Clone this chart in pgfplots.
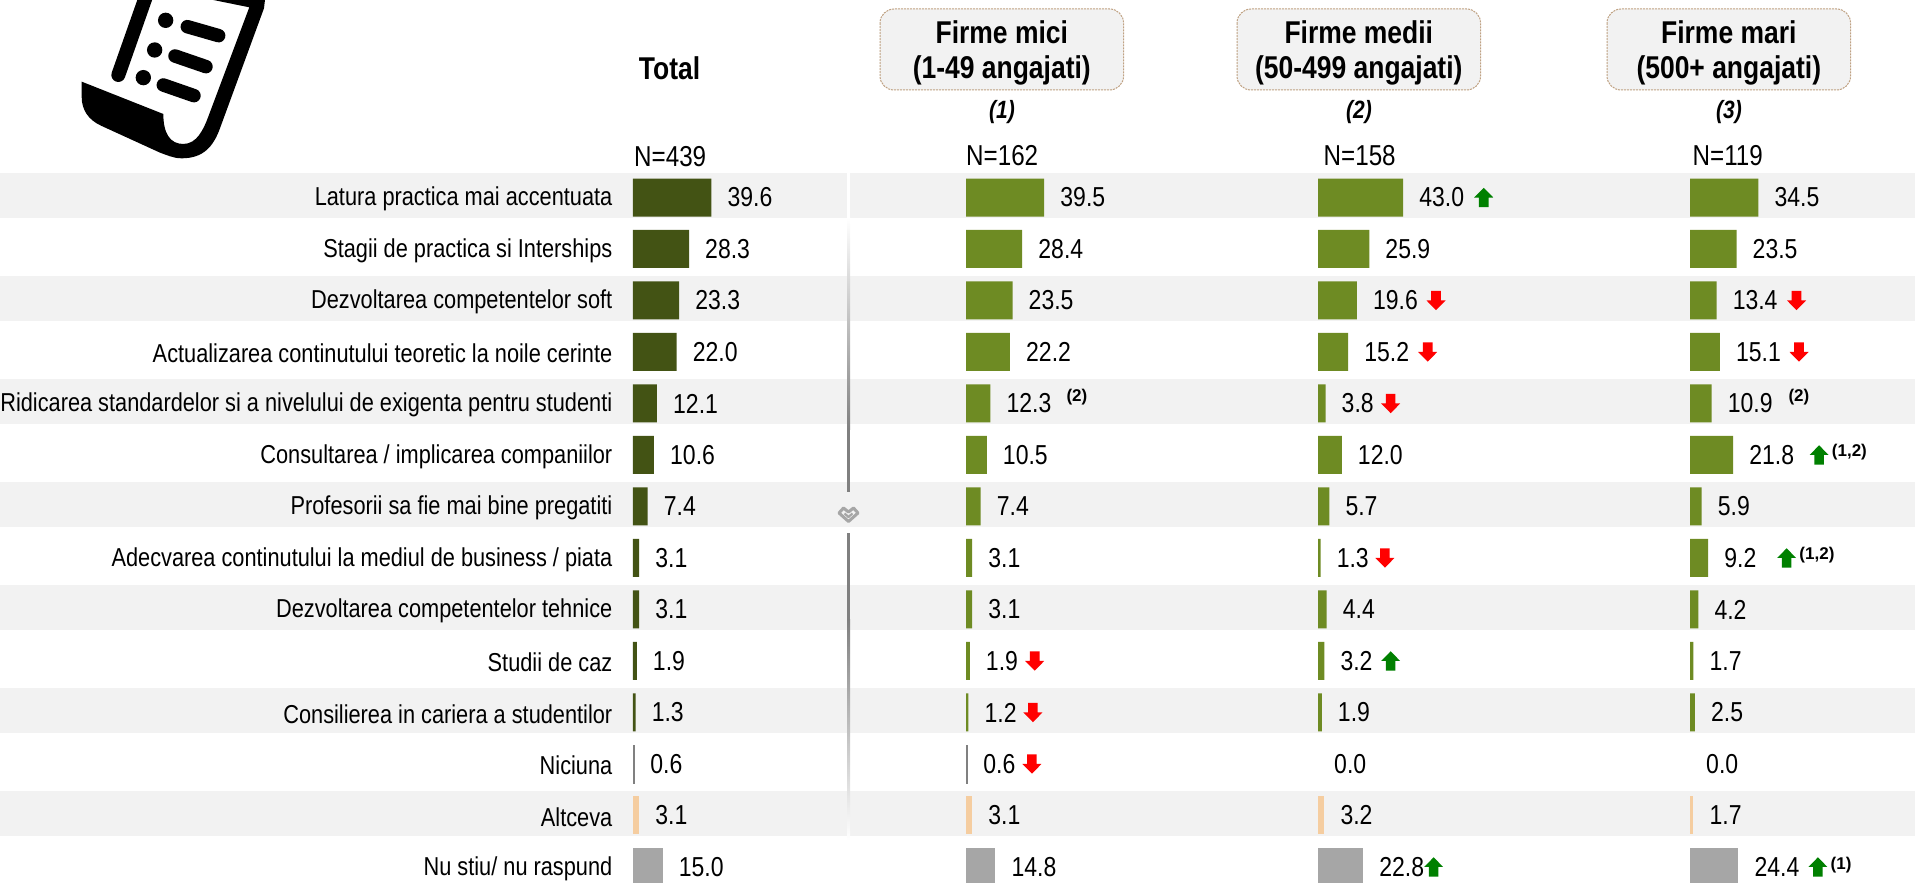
\documentclass[border=0pt]{standalone}
\usepackage{pgfplots}
\usepackage{fontspec}
\pgfplotsset{compat=1.18}
\setmainfont{Liberation Sans}[FakeStretch=0.84]
\newfontfamily\wide{Liberation Sans}
\newcommand{\vfont}{\fontsize{27.4pt}{30pt}\selectfont}
\newcommand{\nfont}{\fontsize{28.8pt}{32pt}\selectfont}
\newcommand{\hfont}{\fontsize{31.5pt}{38pt}\selectfont\bfseries}
\definecolor{dk}{HTML}{435314}
\definecolor{gr}{HTML}{6E8B23}
\definecolor{pe}{HTML}{F5CDA0}
\definecolor{gy}{HTML}{A6A6A6}
\definecolor{mg}{HTML}{808080}
\definecolor{st}{HTML}{F2F2F2}
\definecolor{upc}{HTML}{008000}
\definecolor{dnc}{HTML}{FF0000}
\definecolor{bx}{HTML}{BFA182}
\pgfdeclareplotmark{uparr}{%
  \pgfpathmoveto{\pgfqpoint{0pt}{9.7pt}}\pgfpathlineto{\pgfqpoint{9.5pt}{0pt}}
  \pgfpathlineto{\pgfqpoint{4.8pt}{0pt}}\pgfpathlineto{\pgfqpoint{4.8pt}{-9.7pt}}
  \pgfpathlineto{\pgfqpoint{-4.8pt}{-9.7pt}}\pgfpathlineto{\pgfqpoint{-4.8pt}{0pt}}
  \pgfpathlineto{\pgfqpoint{-9.5pt}{0pt}}\pgfpathclose\pgfusepathqfill}
\pgfdeclareplotmark{dnarr}{%
  \pgfpathmoveto{\pgfqpoint{0pt}{-9.7pt}}\pgfpathlineto{\pgfqpoint{9.5pt}{0pt}}
  \pgfpathlineto{\pgfqpoint{4.8pt}{0pt}}\pgfpathlineto{\pgfqpoint{4.8pt}{9.7pt}}
  \pgfpathlineto{\pgfqpoint{-4.8pt}{9.7pt}}\pgfpathlineto{\pgfqpoint{-4.8pt}{0pt}}
  \pgfpathlineto{\pgfqpoint{-9.5pt}{0pt}}\pgfpathclose\pgfusepathqfill}
\pgfplotsset{
  panel/.style={scale only axis,anchor=south west,width=297pt,height=883pt,
    xmin=0,xmax=150,ymin=-3.835,ymax=13.311,y dir=reverse,clip=false,
    /pgf/number format/.cd,fixed,fixed zerofill,precision=1,assume math mode=true},
  vb/.style={xbar,bar width=38pt,bar shift=0pt,draw=none,fill=#1,point meta=x,
    nodes near coords,
    nodes near coords style={text=black,font=\vfont,anchor=west,inner xsep=0pt,inner ysep=0pt,xshift=16pt}},
  upm/.style={only marks,mark=uparr,color=upc,mark options={fill=upc,draw=none}},
  dnm/.style={only marks,mark=dnarr,color=dnc,mark options={fill=dnc,draw=none}},
}
\newcommand{\sups}[3]{\node[font=\wide\fontsize{17pt}{19pt}\selectfont\bfseries,inner sep=0pt] at (axis cs:#1,#2) {#3};}
\begin{document}
\begin{tikzpicture}
\useasboundingbox (0,0) rectangle (1915pt,883pt);
\begin{scope}[x=1pt,y=-1pt,yshift=883pt]
  % stripes
  \foreach \t in {173,276,379,482,585,688,791}{\fill[st] (0,\t) rectangle (1915,\t+45);}
  \fill[white] (847,173) rectangle (850,218);
  \shade[top color=white,bottom color=mg] (847,218) rectangle (850,430);
  \fill[mg] (847,430) rectangle (850,492);
  \fill[mg] (847,533) rectangle (850,620);
  \shade[top color=mg,bottom color=white] (847,620) rectangle (850,840);
  % small glyph
  \begin{scope}[shift={(848.5,514.5)}]
    \draw[gy,line width=3pt,line join=round] (-9.5,-1.5)--(-5,-6.5)--(0,-2.5)--(5,-6.5)--(9.5,-1.5)--(0,7)--cycle;
    \draw[gy,line width=2.2pt,line join=round] (-4,-1)--(0,2.5)--(4,-1);
  \end{scope}
  % document icon
  \begin{scope}[shift={(60,0)},x=0.3333pt,y=-0.3333pt]
    \clip (-60,0) rectangle (700,520);
    \fill[black] (65,245)--(310,342).. controls (310,400) and (330,432) ..(370,432)
      .. controls (410,432) and (430,390) ..(445,350)--(568,22)--(460,0)--(615,0)--(612,25)--(480,385)
      .. controls (460,440) and (430,475) ..(365,475).. controls (340,475) and (320,465) ..(300,458)
      --(125,378).. controls (85,360) and (65,330) ..(65,290)--cycle;
    \draw[black,line width=14pt,line cap=round] (257,-8)--(175,225);
    \fill[black] (317,61) circle (23) (284,150) circle (23) (250,233) circle (23);
    \draw[black,line width=13.5pt,line cap=round] (382,80)--(476,107) (345,168)--(438,200) (310,255)--(402,287);
  \end{scope}
  % header boxes
  \foreach \l/\a/\b/\c in {880/Firme mici/(1-49 angajati)/(1),1237/Firme medii/(50-499 angajati)/(2),1607/Firme mari/(500+ angajati)/(3)}{
    \draw[bx,fill=st,line width=1pt,dash pattern=on 2pt off 1pt,rounded corners=14pt] (\l,9) rectangle (\l+243.6,90);
    \node[font=\hfont,text=black,inner sep=0pt] at (\l+121.8,32) {\a};
    \node[font=\hfont,text=black,inner sep=0pt] at (\l+121.8,70) {\b};
    \node[font=\fontsize{25pt}{28pt}\selectfont\bfseries\itshape,inner sep=0pt] at (\l+122,112) {\c};
  }
  \node[font=\hfont,inner sep=0pt] at (669.5,68) {Total};
  \node[font=\nfont,inner sep=0pt,anchor=west] at (634,157) {N=439};
  \node[font=\nfont,inner sep=0pt,anchor=west] at (966,155.5) {N=162};
  \node[font=\nfont,inner sep=0pt,anchor=west] at (1323.5,155.5) {N=158};
  \node[font=\nfont,inner sep=0pt,anchor=west] at (1692.5,155.5) {N=119};
\end{scope}

% Total
\begin{axis}[panel,at={(633pt,0pt)},axis x line=none,axis y line=left,
  y axis line style={draw=none},major tick length=0pt,ytick style={draw=none},
  ytick={0,1,2,3,4,5,6,7,8,9,10,11,12,13},
  yticklabels={Latura practica mai accentuata,Stagii de practica si Interships,Dezvoltarea competentelor soft,Actualizarea continutului teoretic la noile cerinte,Ridicarea standardelor si a nivelului de exigenta pentru studenti,Consultarea / implicarea companiilor,Profesorii sa fie mai bine pregatiti,Adecvarea continutului la mediul de business / piata,Dezvoltarea competentelor tehnice,Studii de caz,Consilierea in cariera a studentilor,Niciuna,Altceva,Nu stiu/ nu raspund},
  yticklabel style={font=\fontsize{25.9pt}{28pt}\selectfont,anchor=east,inner sep=0pt,xshift=-20.5pt,yshift=-1.5pt}]
\addplot[vb=dk] coordinates {(39.6,0)(28.3,1)(23.3,2)(22.0,3)(12.1,4)(10.6,5)(7.4,6)(3.1,7)(3.1,8)(1.9,9)(1.3,10)};
\addplot[vb=mg,draw=mg,line width=0.5pt] coordinates {(0.6,11)};
\addplot[vb=pe] coordinates {(3.1,12)};
\addplot[vb=gy] coordinates {(15.0,13)};
\end{axis}

% Firme mici
\begin{axis}[panel,at={(966pt,0pt)},axis lines=none]
\addplot[vb=gr] coordinates {(39.5,0)(28.4,1)(23.5,2)(22.2,3)(12.3,4)(10.5,5)(7.4,6)(3.1,7)(3.1,8)(1.9,9)(1.2,10)};
\addplot[vb=mg,draw=mg,line width=0.5pt] coordinates {(0.6,11)};
\addplot[vb=pe] coordinates {(3.1,12)};
\addplot[vb=gy] coordinates {(14.8,13)};
\addplot[dnm] coordinates {(34.7,9)(33.8,10)(33.3,11)};
\sups{56}{3.87}{(2)}
\end{axis}

% Firme medii
\begin{axis}[panel,at={(1318pt,0pt)},axis lines=none]
\addplot[vb=gr] coordinates {(43.0,0)(25.9,1)(19.6,2)(15.2,3)(3.8,4)(12.0,5)(5.7,6)(1.3,7)(4.4,8)(3.2,9)(1.9,10)};
\addplot[vb=none] coordinates {(0.0,11)};
\addplot[vb=pe] coordinates {(3.2,12)};
\addplot[vb=gy] coordinates {(22.8,13)};
\addplot[upm] coordinates {(83.7,0)(36.7,9)(58.4,13)};
\addplot[dnm] coordinates {(59.6,2)(55.4,3)(36.7,4)(33.8,7)};
\end{axis}

% Firme mari
\begin{axis}[panel,at={(1690pt,0pt)},axis lines=none]
\addplot[vb=gr] coordinates {(34.5,0)(23.5,1)(13.4,2)(15.1,3)(10.9,4)(21.8,5)(5.9,6)(9.2,7)(4.2,8)(1.7,9)(2.5,10)};
\addplot[vb=none] coordinates {(0.0,11)};
\addplot[vb=pe] coordinates {(1.7,12)};
\addplot[vb=gy] coordinates {(24.4,13)};
\addplot[upm] coordinates {(65.2,5)(48.8,7)(64.6,13)};
\addplot[dnm] coordinates {(53.8,2)(55.05,3)};
\sups{55}{3.87}{(2)}
\sups{80.5}{4.94}{(1,2)}
\sups{64.1}{6.94}{(1,2)}
\sups{76.3}{12.96}{(1)}
\end{axis}
\end{tikzpicture}
\end{document}
